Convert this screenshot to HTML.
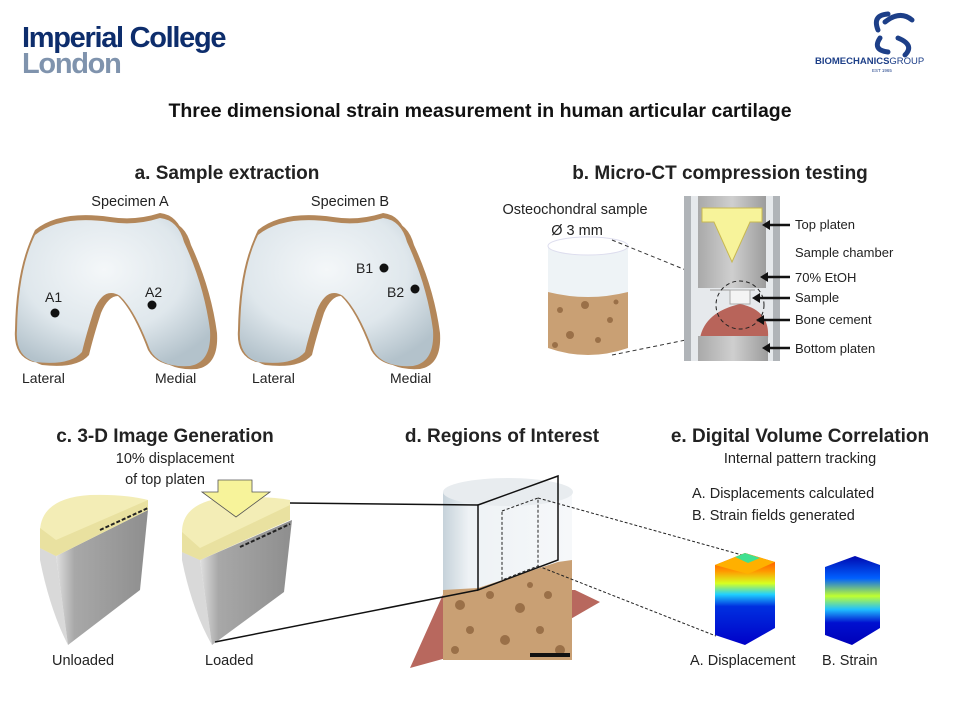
<!DOCTYPE html>
<html><head><meta charset="utf-8"><style>
html,body{margin:0;padding:0;background:#fff}
svg{display:block;font-family:"Liberation Sans",sans-serif}
</style></head><body>
<svg width="960" height="720" viewBox="0 0 960 720" xmlns="http://www.w3.org/2000/svg">
<defs>
<radialGradient id="cart" cx="0.45" cy="0.35" r="0.7"><stop offset="0" stop-color="#f4f7f9"/><stop offset="0.6" stop-color="#dfe7ec"/><stop offset="1" stop-color="#b3c2cb"/></radialGradient>
<linearGradient id="disp" x1="0" y1="0" x2="0" y2="1"><stop offset="0" stop-color="#ff2a00"/><stop offset="0.2" stop-color="#ff9a00"/><stop offset="0.33" stop-color="#d8ff20"/><stop offset="0.45" stop-color="#20d0ff"/><stop offset="0.58" stop-color="#0030e0"/><stop offset="1" stop-color="#0000c8"/></linearGradient>
<linearGradient id="strn" x1="0" y1="0" x2="0" y2="1"><stop offset="0" stop-color="#0008b0"/><stop offset="0.25" stop-color="#0060ff"/><stop offset="0.45" stop-color="#c0ff30"/><stop offset="0.6" stop-color="#20c0ff"/><stop offset="0.75" stop-color="#0010d0"/><stop offset="1" stop-color="#0000b8"/></linearGradient>
<linearGradient id="grey" x1="0" y1="0" x2="1" y2="0"><stop offset="0" stop-color="#e0e0e0"/><stop offset="0.2" stop-color="#a8a8a8"/><stop offset="1" stop-color="#8e8e8e"/></linearGradient>
<linearGradient id="dev" x1="0" y1="0" x2="1" y2="0"><stop offset="0" stop-color="#a9a9a9"/><stop offset="0.5" stop-color="#cfcfcf"/><stop offset="1" stop-color="#9c9c9c"/></linearGradient>
<linearGradient id="cyl" x1="0" y1="0" x2="1" y2="0"><stop offset="0" stop-color="#c6d2da"/><stop offset="0.2" stop-color="#eef2f5"/><stop offset="1" stop-color="#f6f8fa"/></linearGradient>
<path id="knee" d="M35 235 Q60 215 110 222 Q135 226 160 218 Q178 220 184 242 Q204 285 210 330 Q212 362 190 366 Q160 368 150 350 Q135 310 120 296 Q104 286 94 310 Q86 335 82 352 Q70 366 35 362 Q15 356 17 330 Q18 270 35 235 Z"/>
</defs>

<text x="22" y="47" font-size="29" font-weight="bold" fill="#0d2d6c" letter-spacing="-1.3">Imperial College</text>
<text x="22" y="73" font-size="29" font-weight="bold" fill="#7f93ad" letter-spacing="-1.3">London</text>
<g fill="none" stroke="#1d3f88" stroke-width="5" stroke-linecap="round">
<path d="M878 30 Q872 15 888 14"/><path d="M885 22 Q900 10 912 20"/><path d="M898 38 Q915 45 905 55"/><path d="M880 38 Q872 50 888 52"/></g>
<text x="815" y="64" font-size="9.5" font-weight="bold" fill="#1d3f88">BIOMECHANICS<tspan font-weight="normal">GROUP</tspan></text>
<text x="872" y="72" font-size="4.5" fill="#1d3f88">EST 1965</text>

<text x="480" y="117" font-size="19.5" font-weight="bold" text-anchor="middle" fill="#111">Three dimensional strain measurement in human articular cartilage</text>

<text x="227" y="179" font-size="19" font-weight="bold" text-anchor="middle" fill="#222">a. Sample extraction</text>
<text x="130" y="206" font-size="14.5" text-anchor="middle" fill="#222">Specimen A</text>
<text x="350" y="206" font-size="14.5" text-anchor="middle" fill="#222">Specimen B</text>
<g fill="#b3875a">
<use href="#knee" transform="translate(7,3)"/><use href="#knee" transform="translate(-2,0)"/><use href="#knee" transform="translate(0,-5)"/>
<use href="#knee" transform="translate(230,3)"/><use href="#knee" transform="translate(221,0)"/><use href="#knee" transform="translate(223,-5)"/>
</g>
<g fill="url(#cart)"><use href="#knee"/><use href="#knee" transform="translate(223,0)"/></g>
<g fill="#111"><circle cx="55" cy="313" r="4.5"/><circle cx="152" cy="305" r="4.5"/><circle cx="384" cy="268" r="4.5"/><circle cx="415" cy="289" r="4.5"/></g>
<g font-size="14" fill="#222">
<text x="45" y="302">A1</text><text x="145" y="297">A2</text><text x="356" y="273">B1</text><text x="387" y="297">B2</text>
<text x="22" y="383">Lateral</text><text x="155" y="383">Medial</text><text x="252" y="383">Lateral</text><text x="390" y="383">Medial</text></g>

<text x="720" y="179" font-size="19" font-weight="bold" text-anchor="middle" fill="#222">b. Micro-CT compression testing</text>
<text x="575" y="214" font-size="14.5" text-anchor="middle" fill="#222">Osteochondral sample</text>
<text x="577" y="235" font-size="14.5" text-anchor="middle" fill="#222">Ø 3 mm</text>
<path d="M548 290 L548 348 Q588 362 628 348 L628 290 Z" fill="#c9a074"/>
<g fill="#9a7048"><circle cx="560" cy="310" r="3"/><circle cx="585" cy="305" r="4"/><circle cx="610" cy="320" r="3"/><circle cx="570" cy="335" r="4"/><circle cx="598" cy="340" r="3"/><circle cx="616" cy="302" r="2.5"/><circle cx="555" cy="345" r="3"/></g>
<path d="M548 246 L548 292 Q588 302 628 292 L628 246 Z" fill="#eef3f6"/>
<ellipse cx="588" cy="246" rx="40" ry="9" fill="#fff" stroke="#dde" stroke-width="1"/>
<line x1="612" y1="240" x2="735" y2="290" stroke="#333" stroke-dasharray="4,3"/>
<line x1="612" y1="355" x2="735" y2="330" stroke="#333" stroke-dasharray="4,3"/>
<rect x="684" y="196" width="96" height="165" fill="#e6e9ec"/>
<rect x="684" y="196" width="7" height="165" fill="#b0b4b8"/><rect x="773" y="196" width="7" height="165" fill="#b0b4b8"/>
<rect x="698" y="196" width="68" height="92" fill="url(#dev)"/>
<path d="M702 208 L762 208 L762 222 L750 222 L732 262 L714 222 L702 222 Z" fill="#f7f39a" stroke="#c8b850"/>
<path d="M710 290 L755 290" stroke="#999"/>
<rect x="730" y="290" width="20" height="14" fill="#f4f4f4" stroke="#aaa"/>
<path d="M700 338 Q705 312 740 304 Q770 310 768 338 Z" fill="#b8645a"/>
<rect x="698" y="336" width="70" height="25" fill="url(#dev)"/>
<circle cx="740" cy="305" r="24" fill="none" stroke="#222" stroke-dasharray="4,3"/>
<g stroke="#111" stroke-width="2.5"><line x1="790" y1="225" x2="768" y2="225"/><line x1="790" y1="277" x2="766" y2="277"/><line x1="790" y1="298" x2="758" y2="298"/><line x1="790" y1="320" x2="762" y2="320"/><line x1="790" y1="348" x2="768" y2="348"/></g>
<g fill="#111"><path d="M762 225 l8 -5 v10z"/><path d="M760 277 l8 -5 v10z"/><path d="M752 298 l8 -5 v10z"/><path d="M756 320 l8 -5 v10z"/><path d="M762 348 l8 -5 v10z"/></g>
<g font-size="13" fill="#222"><text x="795" y="229">Top platen</text><text x="795" y="257">Sample chamber</text><text x="795" y="282">70% EtOH</text><text x="795" y="302">Sample</text><text x="795" y="324">Bone cement</text><text x="795" y="353">Bottom platen</text></g>

<text x="165" y="442" font-size="19" font-weight="bold" text-anchor="middle" fill="#222">c. 3-D Image Generation</text>
<text x="175" y="463" font-size="14.5" text-anchor="middle" fill="#222">10% displacement</text>
<text x="165" y="484" font-size="14.5" text-anchor="middle" fill="#222">of top platen</text>
<path d="M40 530 L40 560 Q50 610 68 645 L56 556 Z" fill="#d9d9d9"/>
<path d="M56 556 L148 510 L140 590 L68 645 Z" fill="url(#grey)"/>
<path d="M40 530 Q42 498 90 495 Q125 494 148 500 L148 510 L56 556 L40 548 Z" fill="#f3edb6"/>
<path d="M40 528 L56 540 L148 500 L148 510 L56 556 L40 548 Z" fill="#e9e1a0"/>
<line x1="100" y1="530" x2="148" y2="508" stroke="#222" stroke-dasharray="4,2" stroke-width="2"/>
<path d="M182 530 L182 560 Q192 610 212 645 L200 560 Z" fill="#d9d9d9"/>
<path d="M200 560 L292 520 L284 592 L212 645 Z" fill="url(#grey)"/>
<path d="M182 530 Q184 500 232 497 Q268 496 290 500 L290 520 L200 560 L182 552 Z" fill="#f3edb6"/>
<path d="M182 532 L200 548 L290 505 L290 520 L200 560 L182 552 Z" fill="#e9e1a0"/>
<line x1="240" y1="547" x2="290" y2="524" stroke="#222" stroke-dasharray="4,2" stroke-width="2"/>
<path d="M218 480 L252 480 L252 492 L270 492 L236 517 L202 492 L218 492 Z" fill="#f7f39a" stroke="#555" stroke-width="0.8"/>
<text x="52" y="665" font-size="14.5" fill="#222">Unloaded</text>
<text x="205" y="665" font-size="14.5" fill="#222">Loaded</text>

<text x="502" y="442" font-size="19" font-weight="bold" text-anchor="middle" fill="#222">d. Regions of Interest</text>
<path d="M410 668 L445 590 L575 590 L600 602 L555 628 Z" fill="#b8685e"/>
<path d="M443 500 L443 660 L572 660 L572 500 Z" fill="#c9a074"/>
<g fill="#9a7048"><circle cx="460" cy="605" r="5"/><circle cx="490" cy="595" r="4"/><circle cx="520" cy="608" r="5"/><circle cx="548" cy="595" r="4"/><circle cx="470" cy="630" r="4"/><circle cx="505" cy="640" r="5"/><circle cx="540" cy="630" r="4"/><circle cx="560" cy="650" r="5"/><circle cx="455" cy="650" r="4"/><circle cx="530" cy="585" r="3"/></g>
<path d="M443 492 L443 590 L478 588 L558 562 L572 560 L572 492 Z" fill="url(#cyl)"/>
<ellipse cx="508" cy="492" rx="65" ry="14" fill="#e8ecef"/>
<g fill="none" stroke="#111" stroke-width="1.5">
<path d="M478 505 L558 476 L558 560 L478 590 Z"/>
<line x1="290" y1="503" x2="478" y2="505"/>
<line x1="215" y1="642" x2="478" y2="590"/>
</g>
<g fill="none" stroke="#222" stroke-dasharray="3,2">
<path d="M502 511 L538 498 L538 566 L502 580 Z"/>
<line x1="538" y1="498" x2="742" y2="555"/>
<line x1="538" y1="566" x2="716" y2="636"/>
</g>
<rect x="530" y="653" width="40" height="4" fill="#111"/>

<text x="800" y="442" font-size="19" font-weight="bold" text-anchor="middle" fill="#222">e. Digital Volume Correlation</text>
<text x="800" y="463" font-size="14.5" text-anchor="middle" fill="#222">Internal pattern tracking</text>
<text x="692" y="498" font-size="14.5" fill="#222">A. Displacements calculated</text>
<text x="692" y="520" font-size="14.5" fill="#222">B. Strain fields generated</text>
<path d="M715 565 L745 553 L775 562 L775 628 L745 645 L715 635 Z" fill="url(#disp)"/>
<path d="M715 565 L745 553 L775 562 L748 574 Z" fill="#ffb000"/>
<path d="M735 557 L745 553 L760 558 L748 563 Z" fill="#40e090"/>
<path d="M825 567 L855 556 L880 565 L880 628 L852 645 L825 635 Z" fill="url(#strn)"/>
<text x="690" y="665" font-size="14.5" fill="#222">A. Displacement</text>
<text x="822" y="665" font-size="14.5" fill="#222">B. Strain</text>
</svg>
</body></html>
